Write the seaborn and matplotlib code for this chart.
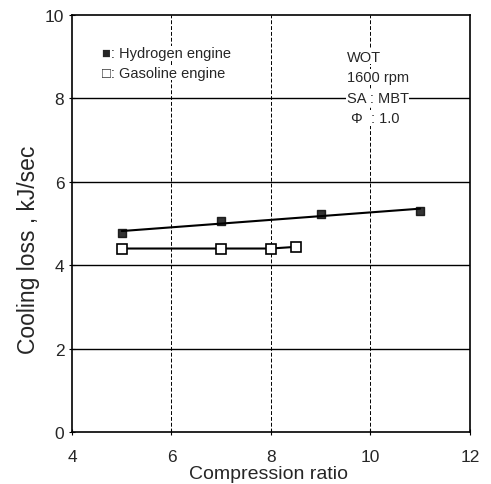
import numpy as np
import pandas as pd
import matplotlib
matplotlib.use("Agg")
import matplotlib.pyplot as plt
import seaborn as sns

# Data
h2_ratio = [5, 7, 9, 11]
h2_loss = [4.77, 5.05, 5.22, 5.31]
gas_ratio = [5, 7, 8, 8.5]
gas_loss = [4.40, 4.40, 4.40, 4.44]
x_ticks = [4, 6, 8, 10, 12]
y_ticks = [0, 2, 4, 6, 8, 10]

sns.set_style("white")
plt.rcParams['font.family'] = ['Liberation Sans', 'DejaVu Sans']

fig = plt.figure(figsize=(4.91, 4.85), dpi=100)
ax = fig.add_axes([0.1466, 0.1072, 0.8104, 0.8598])

h2 = pd.DataFrame({"ratio": h2_ratio, "loss": h2_loss})
gas = pd.DataFrame({"ratio": gas_ratio, "loss": gas_loss})

# grid lines
for y in y_ticks[1:-1]:
    ax.axhline(y, color="black", lw=1.0, zorder=1)
for x in x_ticks[1:-1]:
    ax.axvline(x, color="black", lw=0.7, ls=(0, (4, 2)), zorder=1)

sns.regplot(data=h2, x="ratio", y="loss", ax=ax, ci=None, truncate=True,
            marker="s",
            scatter_kws=dict(s=40, color="black", zorder=3),
            line_kws=dict(color="black", lw=1.5, zorder=2))
sns.lineplot(data=gas, x="ratio", y="loss", ax=ax, color="black", lw=1.5,
             marker="s", markersize=7, markerfacecolor="white",
             markeredgecolor="black", markeredgewidth=1.2, zorder=3)

ax.set_xlim(4, 12)
ax.set_ylim(0, 10)
ax.set_xticks(x_ticks)
ax.set_yticks(y_ticks)
ax.tick_params(labelsize=12.5, length=4, direction="inout", color="black",
               left=True, bottom=True)
ax.tick_params(axis="x", pad=10)
for s in ax.spines.values():
    s.set_color("black")
    s.set_linewidth(1.2)

ax.set_xlabel("Compression ratio", fontsize=14)
ax.set_ylabel("Cooling loss , kJ/sec", fontsize=16.5)
ax.xaxis.set_label_coords(0.495, -0.08)
ax.yaxis.set_label_coords(-0.08, 0.44)

bb = dict(facecolor="white", edgecolor="none", pad=0.5)
ax.text(0.075, 0.908, "■: Hydrogen engine", transform=ax.transAxes,
        fontsize=10.5, va="center", ha="left", bbox=bb)
ax.text(0.075, 0.862, "□: Gasoline engine", transform=ax.transAxes,
        fontsize=10.5, va="center", ha="left", bbox=bb)
ax.text(0.69, 0.90, "WOT", transform=ax.transAxes, fontsize=10.5, va="center", bbox=bb)
ax.text(0.69, 0.851, "1600 rpm", transform=ax.transAxes, fontsize=10.5, va="center", bbox=bb)
ax.text(0.69, 0.801, "SA : MBT", transform=ax.transAxes, fontsize=10.5, va="center", bbox=bb)
ax.text(0.70, 0.753, "Φ  : 1.0", transform=ax.transAxes, fontsize=10.5, va="center", bbox=bb)

fig.savefig("out.png", dpi=100)
